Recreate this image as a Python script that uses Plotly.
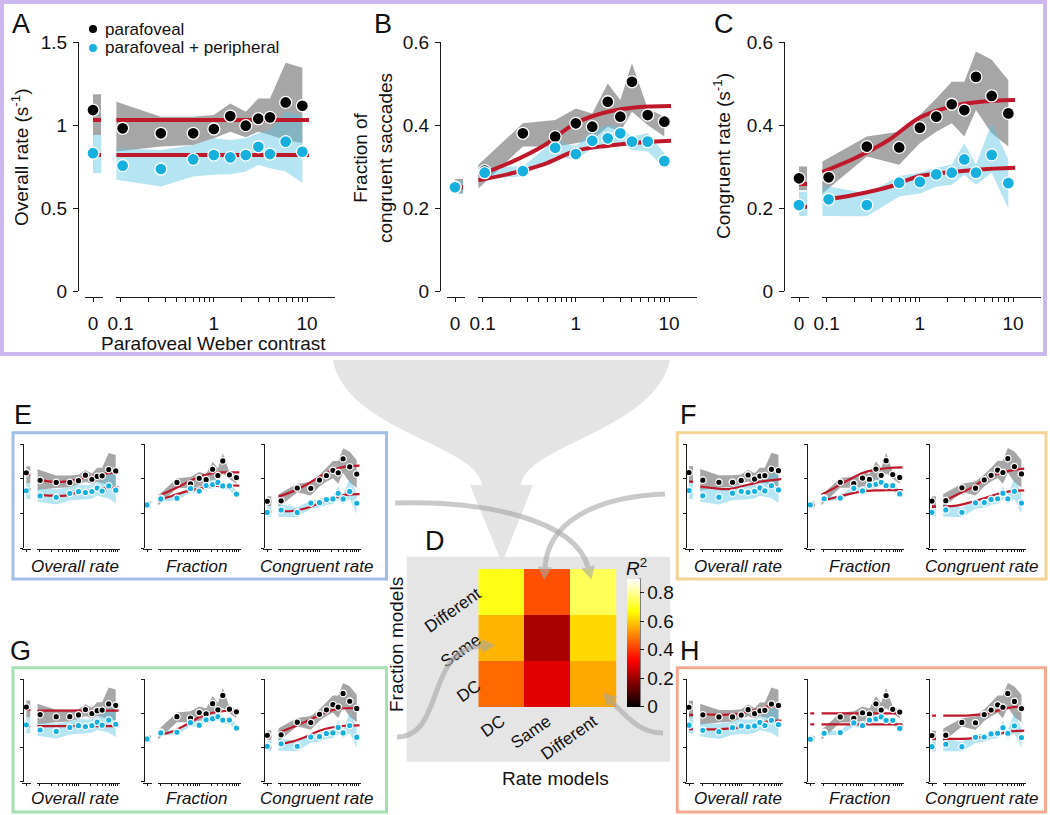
import math
import plotly.graph_objects as go

W, H = 1050, 815
FONT = "Liberation Sans, Arial, Helvetica, sans-serif"
AX = "#1a1a1a"
BLACK = "#000000"
CYAN = "#17b0de"
RED = "#c0182b"
GRAY_BAND = "rgba(150,150,150,0.85)"
CYAN_BAND = "rgba(90,195,228,0.45)"

# ---------------- data ----------------
CONTRAST = [0.105, 0.27, 0.6, 1.0, 1.5, 2.2, 3.0, 4.0, 5.9, 8.9]
BAND_X = [0.09, 0.27, 0.6, 1.0, 1.5, 2.2, 3.0, 4.0, 5.9, 8.9]
ZERO_SPAN = [0, 1]
MODEL_X = [0.09, 0.2, 0.45, 1.0, 2.2, 4.5, 10.5]
X_TICK_VALS = [0.1, 0.2, 0.3, 0.4, 0.5, 0.6, 0.7, 0.8, 0.9, 1, 2, 3, 4, 5, 6, 7, 8, 9, 10]
X_TICK_TEXT = ["0.1", "", "", "", "", "", "", "", "", "1", "", "", "", "", "", "", "", "", "10"]
OVR_TICKS = [0, 0.5, 1, 1.5]
OVR_TICK_TEXT = ["0", "0.5", "1", "1.5"]
PROP_TICKS = [0, 0.2, 0.4, 0.6]
PROP_TICK_TEXT = ["0", "0.2", "0.4", "0.6"]

# Overall rate (s^-1)
OVR_PARA_ZERO = 1.09
OVR_PARA_ZERO_CI = [0.94, 1.185]
OVR_PARA = [0.98, 0.95, 0.95, 0.976, 1.054, 0.996, 1.038, 1.046, 1.136, 1.116]
OVR_PARA_LO = [0.84, 0.87, 0.88, 0.92, 0.96, 0.926, 0.96, 0.94, 0.91, 0.89]
OVR_PARA_HI = [1.14, 1.05, 1.05, 1.06, 1.13, 1.08, 1.16, 1.16, 1.375, 1.345]
OVR_PERI_ZERO = 0.83
OVR_PERI_ZERO_CI = [0.71, 0.94]
OVR_PERI = [0.755, 0.735, 0.793, 0.819, 0.805, 0.819, 0.869, 0.825, 0.90, 0.839]
OVR_PERI_LO = [0.67, 0.63, 0.69, 0.70, 0.703, 0.72, 0.76, 0.74, 0.72, 0.65]
OVR_PERI_HI = [0.86, 0.85, 0.88, 0.92, 0.91, 0.92, 0.95, 0.97, 1.08, 1.06]

# Fraction of congruent saccades
FRAC_PARA_ZERO = 0.25
FRAC_PARA_ZERO_CI = [0.235, 0.27]
FRAC_PARA = [0.29, 0.38, 0.372, 0.404, 0.396, 0.456, 0.42, 0.504, 0.424, 0.408]
FRAC_PARA_LO = [0.247, 0.348, 0.348, 0.356, 0.364, 0.396, 0.384, 0.432, 0.40, 0.372]
FRAC_PARA_HI = [0.304, 0.404, 0.412, 0.44, 0.428, 0.50, 0.46, 0.549, 0.44, 0.42]
FRAC_PERI_ZERO = 0.25
FRAC_PERI_ZERO_CI = [0.235, 0.265]
FRAC_PERI = [0.285, 0.289, 0.345, 0.33, 0.362, 0.368, 0.38, 0.36, 0.36, 0.313]
FRAC_PERI_LO = [0.27, 0.276, 0.324, 0.316, 0.344, 0.344, 0.36, 0.34, 0.336, 0.296]
FRAC_PERI_HI = [0.30, 0.30, 0.364, 0.348, 0.388, 0.40, 0.396, 0.372, 0.38, 0.332]

# Congruent rate (s^-1)
CONG_PARA_ZERO = 0.2715
CONG_PARA_ZERO_CI = [0.243, 0.30]
CONG_PARA = [0.274, 0.348, 0.346, 0.3935, 0.42, 0.45, 0.436, 0.516, 0.47, 0.428]
CONG_PARA_LO = [0.235, 0.324, 0.304, 0.356, 0.384, 0.404, 0.372, 0.436, 0.38, 0.348]
CONG_PARA_HI = [0.312, 0.372, 0.384, 0.424, 0.464, 0.504, 0.504, 0.577, 0.557, 0.508]
CONG_PERI_ZERO = 0.207
CONG_PERI_ZERO_CI = [0.181, 0.239]
CONG_PERI = [0.221, 0.207, 0.261, 0.263, 0.281, 0.285, 0.317, 0.285, 0.328, 0.26]
CONG_PERI_LO = [0.181, 0.18, 0.228, 0.235, 0.251, 0.256, 0.28, 0.256, 0.285, 0.199]
CONG_PERI_HI = [0.255, 0.235, 0.277, 0.285, 0.297, 0.305, 0.356, 0.305, 0.404, 0.316]

# Model fits (sampled at MODEL_X); zero-contrast fit values
FIT_A_OVR_PARA = [1.03, 1.03, 1.03, 1.03, 1.03, 1.03, 1.03]
FIT_A_OVR_PERI = [0.82, 0.82, 0.82, 0.82, 0.82, 0.82, 0.82]
FIT_A_OVR_ZERO = [1.03, 0.82]
FIT_A_FRAC_PARA = [0.279, 0.31, 0.35, 0.405, 0.432, 0.443, 0.446]
FIT_A_FRAC_PERI = [0.267, 0.283, 0.305, 0.338, 0.35, 0.357, 0.362]
FIT_A_FRAC_ZERO = [0.25, 0.25]
FIT_A_CONG_PARA = [0.287, 0.32, 0.362, 0.418, 0.445, 0.456, 0.46]
FIT_A_CONG_PERI = [0.219, 0.232, 0.25, 0.277, 0.287, 0.293, 0.297]
FIT_A_CONG_ZERO = [0.258, 0.203]

FIT_E_OVR_PARA = [0.995, 0.962, 0.962, 0.995, 1.043, 1.077, 1.096]
FIT_E_OVR_PERI = [0.779, 0.76, 0.76, 0.808, 0.841, 0.865, 0.88]
FIT_E_OVR_ZERO = [1.06, 0.851]
FIT_E_FRAC_PARA = [0.302, 0.337, 0.375, 0.413, 0.433, 0.438, 0.438]
FIT_E_FRAC_PERI = [0.279, 0.302, 0.327, 0.346, 0.358, 0.362, 0.362]
FIT_E_FRAC_ZERO = [0.25, 0.25]
FIT_E_CONG_PARA = [0.298, 0.327, 0.365, 0.413, 0.452, 0.471, 0.477]
FIT_E_CONG_PERI = [0.215, 0.215, 0.231, 0.26, 0.288, 0.308, 0.313]
FIT_E_CONG_ZERO = [0.269, 0.21]

FIT_F_OVR_BOTH = [0.889, 0.865, 0.851, 0.889, 0.9375, 0.971, 0.995]
FIT_F_OVR_ZERO = [0.96]
FIT_F_FRAC_PARA = [0.308, 0.35, 0.394, 0.433, 0.452, 0.462, 0.465]
FIT_F_FRAC_PERI = [0.273, 0.292, 0.312, 0.327, 0.333, 0.335, 0.335]
FIT_F_FRAC_ZERO = [0.25, 0.25]
FIT_F_CONG_PARA = [0.269, 0.308, 0.346, 0.394, 0.429, 0.446, 0.458]
FIT_F_CONG_PERI = [0.24, 0.246, 0.265, 0.288, 0.312, 0.327, 0.333]
FIT_F_CONG_ZERO = [0.24, 0.24]

FIT_G_OVR_PARA = [1.037, 1.037, 1.037, 1.037, 1.037, 1.037, 1.037]
FIT_G_OVR_PERI = [0.813, 0.813, 0.813, 0.813, 0.813, 0.813, 0.813]
FIT_G_OVR_ZERO = [1.047, 0.813]
FIT_G_FRAC_BOTH = [0.273, 0.292, 0.331, 0.376, 0.403, 0.413, 0.415]
FIT_G_FRAC_ZERO = [0.253]
FIT_G_CONG_PARA = [0.286, 0.318, 0.351, 0.39, 0.419, 0.429, 0.43]
FIT_G_CONG_PERI = [0.22, 0.234, 0.263, 0.298, 0.318, 0.327, 0.329]
FIT_G_CONG_ZERO = [0.263, 0.2]

FIT_H_OVR_PARA = [0.992, 0.982, 0.982, 1.0, 1.05, 1.098, 1.113]
FIT_H_OVR_PERI = [0.769, 0.769, 0.779, 0.798, 0.827, 0.881, 0.895]
FIT_H_OVR_ZERO = [0.98, 0.77]
FIT_H_FRAC_PARA = [0.4, 0.4, 0.4, 0.4, 0.4, 0.4, 0.4]
FIT_H_FRAC_PERI = [0.337, 0.337, 0.337, 0.337, 0.337, 0.337, 0.337]
FIT_H_FRAC_ZERO = [0.4, 0.337]
FIT_H_CONG_PARA = [0.387, 0.387, 0.389, 0.397, 0.416, 0.434, 0.439]
FIT_H_CONG_PERI = [0.252, 0.252, 0.255, 0.265, 0.279, 0.294, 0.3]
FIT_H_CONG_ZERO = [0.387, 0.252]

# Panel D: R^2 of model combinations
RATE_MODELS = ["DC", "Same", "Different"]
FRACTION_MODELS = ["DC", "Same", "Different"]
R2_FRAC_DC = [0.47, 0.29, 0.555]
R2_FRAC_SAME = [0.57, 0.22, 0.62]
R2_FRAC_DIFF = [0.69, 0.435, 0.75]
R2_TICKS = [0, 0.2, 0.4, 0.6, 0.8]
R2_TICK_TEXT = ["0", "0.2", "0.4", "0.6", "0.8"]


def measure(pz, pzci, p, plo, phi, cz, czci, c, clo, chi):
    return dict(pz=pz, pzci=pzci, p=p, plo=plo, phi=phi, cz=cz, czci=czci, c=c, clo=clo, chi=chi)


M_OVR = measure(OVR_PARA_ZERO, OVR_PARA_ZERO_CI, OVR_PARA, OVR_PARA_LO, OVR_PARA_HI,
                OVR_PERI_ZERO, OVR_PERI_ZERO_CI, OVR_PERI, OVR_PERI_LO, OVR_PERI_HI)
M_FRAC = measure(FRAC_PARA_ZERO, FRAC_PARA_ZERO_CI, FRAC_PARA, FRAC_PARA_LO, FRAC_PARA_HI,
                 FRAC_PERI_ZERO, FRAC_PERI_ZERO_CI, FRAC_PERI, FRAC_PERI_LO, FRAC_PERI_HI)
M_CONG = measure(CONG_PARA_ZERO, CONG_PARA_ZERO_CI, CONG_PARA, CONG_PARA_LO, CONG_PARA_HI,
                 CONG_PERI_ZERO, CONG_PERI_ZERO_CI, CONG_PERI, CONG_PERI_LO, CONG_PERI_HI)


# ---------------- helpers ----------------
def fx(x):
    return x / W


def fy(y):
    return 1 - y / H


fig = go.Figure()
axes = {}
counter = {"x": 0, "y": 0}


def new_axis(kind, spec):
    counter[kind] += 1
    n = counter[kind]
    name = f"{kind}axis" if n == 1 else f"{kind}axis{n}"
    ref = kind if n == 1 else f"{kind}{n}"
    axes[name] = spec
    return ref


def add_panel(x0, ytop, ybot, ymax, yticks, yticktext, big, m, fits_para, fits_peri, zero_fits):
    lw = 1.2 if big else 1.0
    common = dict(showline=True, linecolor=AX, linewidth=lw, ticks="outside", tickcolor=AX,
                  tickwidth=lw, showgrid=False, zeroline=False, fixedrange=True, automargin=False,
                  tickfont=dict(family=FONT, size=19, color="#111"))
    if big:
        zd, md, xr, xoff, xtl, ytl = (x0 + 7, x0 + 25), (x0 + 38, x0 + 257), [-1.05, 1.30], 6, 4, 5
        rw, ms, mlw = 4, 12, 1.3
    else:
        zd, md, xr, xoff, xtl, ytl = (x0 - 1, x0 + 8), (x0 + 13.5, x0 + 97), [-1.064, 1.066], 1, 2, 3
        rw, ms, mlw = 2.2, 6.5, 1.3
    ya = new_axis("y", dict(common, domain=[fy(ybot), fy(ytop)], range=[0, ymax], anchor="free",
                            position=fx(x0), tickvals=yticks, ticktext=yticktext,
                            showticklabels=big, ticklen=ytl, ticklabelstandoff=2))
    xz = new_axis("x", dict(common, domain=[fx(zd[0]), fx(zd[1])], range=[-1, 1.25], anchor="free",
                            position=fy(ybot + xoff), tickvals=[0], ticktext=["0"],
                            showticklabels=big, ticklen=xtl, ticklabelstandoff=5))
    xm = new_axis("x", dict(common, type="log", domain=[fx(md[0]), fx(md[1])], range=xr, anchor="free",
                            position=fy(ybot + xoff), tickvals=X_TICK_VALS, ticktext=X_TICK_TEXT,
                            showticklabels=big, ticklen=xtl, ticklabelstandoff=5))

    def band(xa, xs, lo, hi, color):
        fig.add_trace(go.Scatter(x=list(xs) + list(xs)[::-1], y=list(hi) + list(lo)[::-1],
                                 xaxis=xa, yaxis=ya, mode="lines", line=dict(width=0),
                                 fill="toself", fillcolor=color, hoverinfo="skip"))

    band(xz, ZERO_SPAN, [m["pzci"][0]] * 2, [m["pzci"][1]] * 2, GRAY_BAND)
    band(xm, BAND_X, m["plo"], m["phi"], GRAY_BAND)
    band(xz, ZERO_SPAN, [m["czci"][0]] * 2, [m["czci"][1]] * 2, CYAN_BAND)
    band(xm, BAND_X, m["clo"], m["chi"], CYAN_BAND)

    for zv in zero_fits:
        fig.add_trace(go.Scatter(x=ZERO_SPAN, y=[zv, zv], xaxis=xz, yaxis=ya, mode="lines",
                                 line=dict(color=RED, width=rw), hoverinfo="skip"))
    for fit in [f for f in (fits_para, fits_peri) if f is not None]:
        fig.add_trace(go.Scatter(x=MODEL_X, y=fit, xaxis=xm, yaxis=ya, mode="lines",
                                 line=dict(color=RED, width=rw, shape="spline", smoothing=1.0),
                                 hoverinfo="skip"))

    for zv, vals, col in [(m["pz"], m["p"], BLACK), (m["cz"], m["c"], CYAN)]:
        mk = dict(size=ms, color=col, line=dict(color="white", width=mlw))
        fig.add_trace(go.Scatter(x=[0], y=[zv], xaxis=xz, yaxis=ya, mode="markers", marker=mk,
                                 cliponaxis=False))
        fig.add_trace(go.Scatter(x=CONTRAST, y=vals, xaxis=xm, yaxis=ya, mode="markers", marker=mk,
                                 cliponaxis=False))


# ---------------- top panels A, B, C ----------------
add_panel(78, 42, 291, 1.5, OVR_TICKS, OVR_TICK_TEXT, True, M_OVR,
          FIT_A_OVR_PARA, FIT_A_OVR_PERI, FIT_A_OVR_ZERO)
add_panel(440, 42, 291, 0.6, PROP_TICKS, PROP_TICK_TEXT, True, M_FRAC,
          FIT_A_FRAC_PARA, FIT_A_FRAC_PERI, FIT_A_FRAC_ZERO)
add_panel(784, 42, 291, 0.6, PROP_TICKS, PROP_TICK_TEXT, True, M_CONG,
          FIT_A_CONG_PARA, FIT_A_CONG_PERI, FIT_A_CONG_ZERO)

# ---------------- small panels E, F, G, H ----------------
SMALL = [
    ([23.3, 144, 264.3], 444.3, 548.3,
     [(FIT_E_OVR_PARA, FIT_E_OVR_PERI, FIT_E_OVR_ZERO), (FIT_E_FRAC_PARA, FIT_E_FRAC_PERI, FIT_E_FRAC_ZERO),
      (FIT_E_CONG_PARA, FIT_E_CONG_PERI, FIT_E_CONG_ZERO)]),
    ([686, 807.3, 929], 444, 548.3,
     [(FIT_F_OVR_BOTH, None, FIT_F_OVR_ZERO), (FIT_F_FRAC_PARA, FIT_F_FRAC_PERI, FIT_F_FRAC_ZERO),
      (FIT_F_CONG_PARA, FIT_F_CONG_PERI, FIT_F_CONG_ZERO)]),
    ([23.3, 144, 264.3], 679, 781.7,
     [(FIT_G_OVR_PARA, FIT_G_OVR_PERI, FIT_G_OVR_ZERO), (FIT_G_FRAC_BOTH, None, FIT_G_FRAC_ZERO),
      (FIT_G_CONG_PARA, FIT_G_CONG_PERI, FIT_G_CONG_ZERO)]),
    ([686, 807.3, 929], 679, 782.3,
     [(FIT_H_OVR_PARA, FIT_H_OVR_PERI, FIT_H_OVR_ZERO), (FIT_H_FRAC_PARA, FIT_H_FRAC_PERI, FIT_H_FRAC_ZERO),
      (FIT_H_CONG_PARA, FIT_H_CONG_PERI, FIT_H_CONG_ZERO)]),
]
SMALL_LABELS = ["Overall rate", "Fraction", "Congruent rate"]
annotations = []


def text(x, y, s, size=19, xanchor="center", yanchor="middle", angle=0):
    annotations.append(dict(x=fx(x), y=fy(y), xref="paper", yref="paper", text=s, showarrow=False,
                            font=dict(family=FONT, size=size, color="#111"), xanchor=xanchor,
                            yanchor=yanchor, textangle=angle))


for (x0s, ytop, ybot, fits), label_y in zip(SMALL, [566, 566, 798, 798]):
    for i, (x0, mdef, (fp, fq, fz)) in enumerate(zip(x0s, [M_OVR, M_FRAC, M_CONG], fits)):
        ymax = 1.5 if i == 0 else 0.6
        ticks = OVR_TICKS if i == 0 else PROP_TICKS
        add_panel(x0, ytop, ybot, ymax, ticks, [""] * 4, False, mdef, fp, fq, fz)
        text(x0 + 52, label_y, f"<i>{SMALL_LABELS[i]}</i>", size=17)

# ---------------- panel D heatmap ----------------
yh_name_n = counter["y"] + 1
xh_name_n = counter["x"] + 1
xh = new_axis("x", dict(domain=[fx(478.3), fx(616.7)], anchor=f"y{yh_name_n}", showline=False,
                        showgrid=False, zeroline=False, ticks="", tickangle=-35, fixedrange=True,
                        automargin=False, tickfont=dict(family=FONT, size=17, color="#111")))
yh = new_axis("y", dict(domain=[fy(707.3), fy(569)], anchor=f"x{xh_name_n}", showline=False,
                        showgrid=False, zeroline=False, ticks="", tickangle=-35, fixedrange=True,
                        automargin=False, tickfont=dict(family=FONT, size=17, color="#111")))
HOT = [[0, "rgb(0,0,0)"], [0.365, "rgb(255,0,0)"], [0.746, "rgb(255,255,0)"], [1, "rgb(255,255,255)"]]
fig.add_trace(go.Heatmap(z=[R2_FRAC_DC, R2_FRAC_SAME, R2_FRAC_DIFF], x=RATE_MODELS, y=FRACTION_MODELS,
                         xaxis=xh, yaxis=yh, colorscale=HOT, zmin=0, zmax=0.9, hoverinfo="skip",
                         colorbar=dict(x=fx(626.7), xanchor="left", y=fy(642.5), yanchor="middle",
                                       len=128.4, lenmode="pixels", thickness=13.3,
                                       thicknessmode="pixels", xpad=0, ypad=0, outlinewidth=0,
                                       tickvals=R2_TICKS, ticktext=R2_TICK_TEXT, ticks="outside",
                                       ticklen=4, tickcolor=AX,
                                       tickfont=dict(family=FONT, size=19, color="#111"))))

# ---------------- shapes ----------------
shapes = []


def P(x, y):
    return f"{fx(x):.5f},{fy(y):.5f}"


def rect(x0, y0, x1, y1, line=None, fill=None, width=3, layer="above"):
    shapes.append(dict(type="rect", xref="paper", yref="paper", x0=fx(x0), x1=fx(x1), y0=fy(y1), y1=fy(y0),
                       line=dict(color=line or "rgba(0,0,0,0)", width=width if line else 0),
                       fillcolor=fill or "rgba(0,0,0,0)", layer=layer))


rect(2, 2, 1045, 354, line="#cbb6ee", width=4)
rect(406.7, 556.7, 670, 761.7, fill="#e5e5e5", layer="below")
rect(13, 432.7, 386.5, 579, line="#a2bde8", width=3)
rect(677.3, 432.7, 1046, 579, line="#f3d494", width=3)
rect(13, 667.7, 386.5, 812, line="#a4e0b0", width=3)
rect(677.3, 667.7, 1045.5, 812, line="#f4aa91", width=3)
# right edge line of the colour bar
shapes.append(dict(type="line", xref="paper", yref="paper", x0=fx(640), x1=fx(640), y0=fy(706.7),
                   y1=fy(578.3), line=dict(color=AX, width=1)))

# funnel from the top panels into D
funnel = (f"M {P(333,360)} L {P(670,360)} C {P(655,430)} {P(526,445)} {P(521,485)} "
          f"L {P(533,485)} L {P(502,563)} L {P(470,485)} L {P(482,485)} "
          f"C {P(478,445)} {P(345,430)} {P(333,360)} Z")
shapes.append(dict(type="path", xref="paper", yref="paper", path=funnel, fillcolor="#e4e4e4",
                   line=dict(width=0), layer="above"))

ARROW_COL = "rgba(165,165,165,0.6)"
ARROWS = [
    [(395, 503), (485, 500), (575, 520), (588, 567)],
    [(665, 494), (590, 497), (548, 525), (545, 567)],
    [(397, 737), (445, 737), (425, 648), (482, 646)],
    [(663, 733), (640, 733), (628, 718), (612, 702)],
]
for (s, c1, c2, e) in ARROWS:
    shapes.append(dict(type="path", xref="paper", yref="paper",
                       path=f"M {P(*s)} C {P(*c1)} {P(*c2)} {P(*e)}",
                       line=dict(color=ARROW_COL, width=5), layer="above"))
    dx, dy = e[0] - c2[0], e[1] - c2[1]
    L = math.hypot(dx, dy)
    ux, uy = dx / L, dy / L
    tip = (e[0] + ux * 13, e[1] + uy * 13)
    nx_, ny_ = -uy, ux
    p1 = (e[0] + nx_ * 7, e[1] + ny_ * 7)
    p2 = (e[0] - nx_ * 7, e[1] - ny_ * 7)
    shapes.append(dict(type="path", xref="paper", yref="paper",
                       path=f"M {P(*tip)} L {P(*p1)} L {P(*p2)} Z",
                       fillcolor=ARROW_COL, line=dict(width=0), layer="above"))

# legend dots
for yy, col in [(29, BLACK), (48, CYAN)]:
    shapes.append(dict(type="circle", xref="paper", yref="paper", x0=fx(89), x1=fx(97),
                       y0=fy(yy + 4), y1=fy(yy - 4), fillcolor=col, line=dict(width=0)))

# ---------------- annotations ----------------
for lx, ly, s in [(10, 24, "A"), (372, 24, "B"), (712, 24, "C"), (423, 541, "D"),
                  (12, 415, "E"), (678, 415, "F"), (8, 651, "G"), (678, 651, "H")]:
    text(lx, ly, s, size=27, xanchor="left")

text(103, 29, "parafoveal", size=17, xanchor="left")
text(103, 48, "parafoveal + peripheral", size=17, xanchor="left")
text(20, 158, "Overall rate (s<sup>-1</sup>)", size=19, angle=-90)
text(373, 158, "Fraction of<br>congruent saccades", size=19, angle=-90)
text(722, 156, "Congruent rate (s<sup>-1</sup>)", size=19, angle=-90)
text(213, 343, "Parafoveal Weber contrast", size=19)
text(396, 645, "Fraction models", size=19, angle=-90)
text(555, 778, "Rate models", size=19)
text(636, 567, "<i>R</i><sup>2</sup>", size=19)

fig.update_layout(
    template="none",
    width=W, height=H, autosize=False,
    margin=dict(l=0, r=0, t=0, b=0, pad=0, autoexpand=False),
    paper_bgcolor="white", plot_bgcolor="rgba(0,0,0,0)", showlegend=False,
    shapes=shapes, annotations=annotations,
    font=dict(family=FONT, color="#111"),
    **axes,
)
fig.write_html("out.html", config={"displayModeBar": False},
               post_script="document.body.style.margin='0px';document.body.style.padding='0px';")
